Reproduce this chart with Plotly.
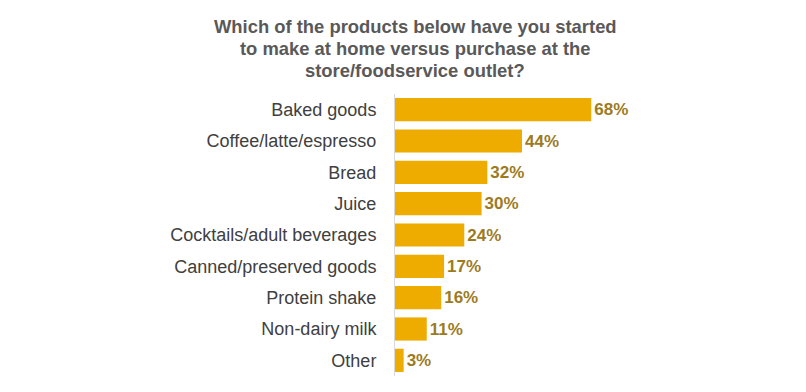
import plotly.graph_objects as go

categories = ["Baked goods", "Coffee/latte/espresso", "Bread", "Juice",
              "Cocktails/adult beverages", "Canned/preserved goods",
              "Protein shake", "Non-dairy milk", "Other"]
values = [68, 44, 32, 30, 24, 17, 16, 11, 3]
labels = [f"{v}%" for v in values]

title_lines = ["Which of the products below have you started",
               "to make at home versus purchase at the",
               "store/foodservice outlet?"]
title_y = [26, 48, 70]

FONT = "Liberation Sans, Arial, sans-serif"

fig = go.Figure(go.Bar(
    x=values, y=categories, orientation="h",
    marker=dict(color="#EEAB00", line=dict(width=0)),
    text=labels, textposition="outside", cliponaxis=False,
    textfont=dict(family=FONT, size=17, color="#9C7B1E"),
    texttemplate="<b>%{text}</b>",
    width=0.74,
))

for line, yy in zip(title_lines, title_y):
    fig.add_annotation(text=f"<b>{line}</b>", xref="paper", yref="paper",
                       x=(415 - 395) / 385, y=1 + (94 - yy) / 282,
                       xanchor="center", yanchor="middle", showarrow=False,
                       font=dict(family=FONT, size=18.4, color="#595959"))

fig.update_layout(
    width=806, height=392,
    margin=dict(l=387, r=34, t=86, b=24, autoexpand=False),
    paper_bgcolor="white", plot_bgcolor="white",
    showlegend=False,
    font=dict(family=FONT, color="#404040", size=18),
    xaxis=dict(range=[0, 133.4], showgrid=False, zeroline=False, showticklabels=False,
               showline=False, fixedrange=True, automargin=False),
    yaxis=dict(autorange="reversed", showgrid=False, zeroline=False,
               showline=True, linecolor="#D9D9D9", linewidth=1,
               ticks="", ticklabelstandoff=14, automargin=False,
               tickfont=dict(family=FONT, size=18, color="#404040")),
)

fig.write_html("out.html")
